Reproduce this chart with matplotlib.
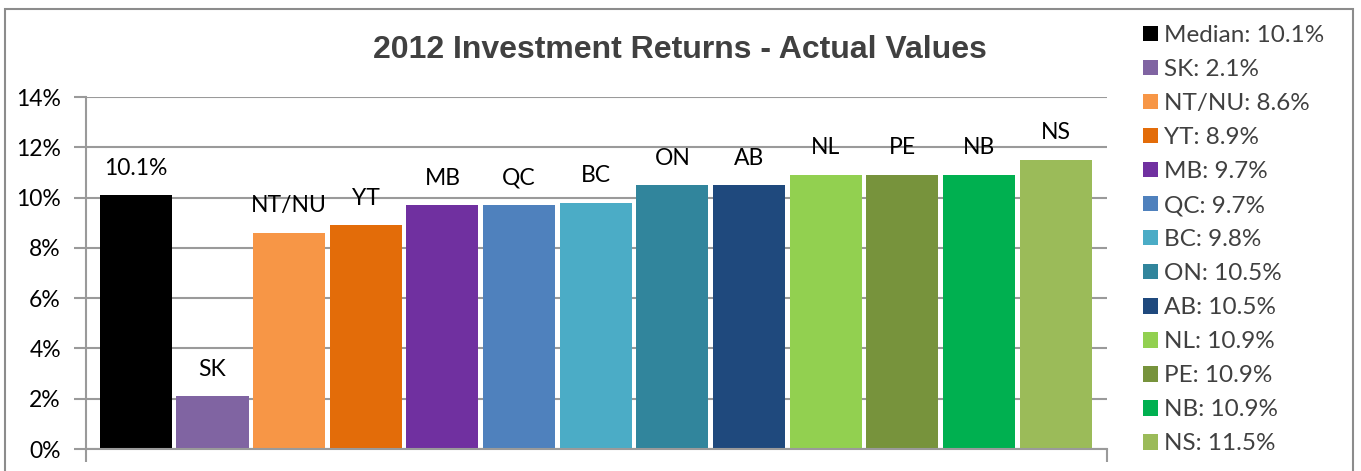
import matplotlib
matplotlib.use("Agg")
import matplotlib.pyplot as plt
from matplotlib.patches import Rectangle, Patch
from matplotlib.ticker import FuncFormatter

# data
names = ["Median", "SK", "NT/NU", "YT", "MB", "QC", "BC", "ON", "AB", "NL", "PE", "NB", "NS"]
returns = [10.1, 2.1, 8.6, 8.9, 9.7, 9.7, 9.8, 10.5, 10.5, 10.9, 10.9, 10.9, 11.5]
colors = ["#000000", "#8064A2", "#F79646", "#E36C09", "#7030A0", "#4F81BD", "#4BACC6",
          "#31859C", "#1F497D", "#92D050", "#77933C", "#00B050", "#9BBB59"]
yticks = [0, 2, 4, 6, 8, 10, 12, 14]

W, H = 1361, 471
fig = plt.figure(figsize=(W / 100, H / 100), dpi=100)
plt.rcParams['font.family'] = ['Lato', 'DejaVu Sans']

# outer chart frame (bottom edge falls outside the image)
fig.patches.append(Rectangle((5 / W, -0.05), 1348 / W, 1 - 9 / H + 0.05,
                             transform=fig.transFigure, fill=False,
                             edgecolor="#8c8c8c", linewidth=1.5))

ax = fig.add_axes([86 / W, 1 - 449 / H, (1107 - 86) / W, (449 - 97) / H])
grid_c = "#9a9a9a"
x = list(range(len(names)))
ax.bar(x, returns, width=0.94, color=colors, zorder=2)

for i, (n, v) in enumerate(zip(names, returns)):
    lab = f"{v}%" if i == 0 else n
    ax.annotate(lab, (i, v), xytext=(0, 27), textcoords="offset pixels",
                ha="center", va="center", fontsize=16.5, color="#000000", zorder=3)

ax.set_ylim(0, 14)
ax.set_xlim(-0.65, len(names) - 1 + 0.67)
ax.set_yticks(yticks)
ax.yaxis.set_major_formatter(FuncFormatter(lambda v, p: f"{v:.0f}%"))
ax.set_xticks([ax.get_xlim()[0], ax.get_xlim()[1]])
ax.set_xticklabels([])
ax.tick_params(axis="y", length=9, width=1.5, color=grid_c, labelsize=16.5,
               labelcolor="#000000", pad=9)
ax.tick_params(axis="x", length=9, width=1.5, color=grid_c)
ax.grid(axis="y", color=grid_c, linewidth=1.5, zorder=0)
ax.set_axisbelow(True)
for s in ["top", "right"]:
    ax.spines[s].set_visible(False)
for s in ["left", "bottom"]:
    ax.spines[s].set_color(grid_c)
    ax.spines[s].set_linewidth(1.5)

fig.text(680 / W, 1 - 50 / H, "2012 Investment Returns - Actual Values",
         ha="center", va="center", fontsize=23, fontweight="bold",
         color="#404040", family=["Liberation Sans", "DejaVu Sans"])

handles = [Patch(facecolor=c, edgecolor="none") for c in colors]
labels = [f"{n}: {v}%" for n, v in zip(names, returns)]
fig.legend(handles, labels, loc="upper left", bbox_to_anchor=(1131 / W, 1 - 13 / H),
           frameon=False, fontsize=17.5, handlelength=0.62, handleheight=0.62,
           handletextpad=0.25, labelspacing=0.535, borderpad=0, labelcolor="#404040")

fig.savefig("out.png", dpi=100)
